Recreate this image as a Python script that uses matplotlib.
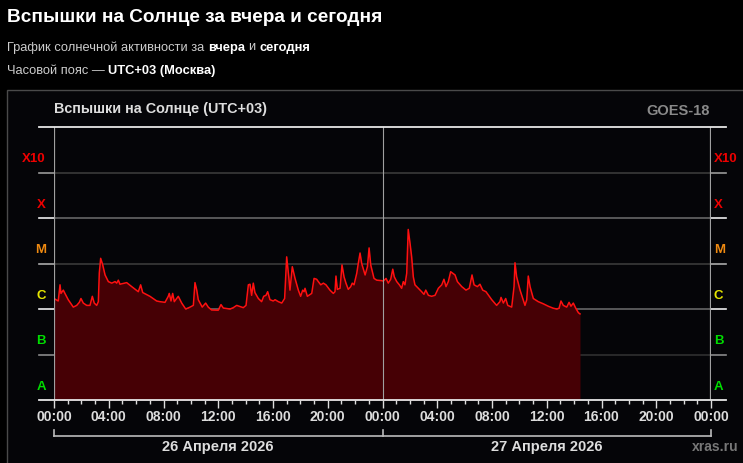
import matplotlib
matplotlib.use('Agg')
import matplotlib.pyplot as plt
from matplotlib.patches import Rectangle
from matplotlib.ticker import NullLocator, FixedLocator

plt.rcParams['font.family'] = ['Liberation Sans', 'DejaVu Sans']

# hours since 00:00 26 April (UTC+03)
hours = [0.00, 0.15, 0.31, 0.44, 0.51, 0.68, 0.80, 1.04, 1.41, 1.66, 1.85, 1.97, 2.14, 2.39, 2.63, 2.80, 2.94, 3.12, 3.24, 3.31,
         3.41, 3.56, 3.73, 3.97, 4.22, 4.46, 4.58, 4.70, 4.82, 5.31, 5.68, 6.16, 6.33, 6.48, 7.01, 7.50, 7.74, 8.11, 8.35, 8.42,
         8.55, 8.67, 8.79, 9.08, 9.33, 9.62, 9.94, 10.18, 10.30, 10.43, 10.54, 10.83, 11.08, 11.27, 11.52, 12.00, 12.20, 12.37,
         12.86, 13.10, 13.35, 13.83, 14.03, 14.20, 14.32, 14.44, 14.56, 14.68, 14.93, 15.17, 15.32, 15.49, 15.61, 15.78, 16.02,
         16.15, 16.39, 16.64, 16.85,
         17.00, 17.15, 17.24, 17.41, 17.61, 17.85, 18.02, 18.17, 18.27, 18.34, 18.51, 18.83, 19.00, 19.19, 19.31, 19.49, 19.68,
         19.87, 20.16, 20.41, 20.53, 20.60, 20.70, 20.90, 21.04, 21.19, 21.33, 21.50, 21.68, 21.79, 21.92, 22.12, 22.23, 22.36,
         22.48, 22.73, 22.90, 23.02, 23.14, 23.38, 23.58, 23.94,
         24.06, 24.26, 24.42, 24.60, 24.75, 24.86, 25.04, 25.23, 25.40, 25.52, 25.64, 25.77, 25.88, 26.01, 26.13, 26.25, 26.37,
         26.62, 26.86, 27.03, 27.16, 27.35, 27.59, 27.84, 28.08, 28.33, 28.49, 28.64, 28.81, 28.98, 29.13, 29.30, 29.47, 29.79,
         30.10, 30.34, 30.54, 30.69, 30.93, 31.12, 31.32, 31.56, 31.80,
         31.98, 32.34, 32.58, 32.66, 32.83, 33.00, 33.15, 33.44, 33.61, 33.68, 33.80, 34.05, 34.17, 34.41, 34.54, 34.65, 34.78,
         35.02, 35.38, 35.75, 36.11, 36.48, 36.73, 36.90, 37.04, 37.21, 37.46, 37.63, 37.77, 37.94, 38.12, 38.31, 38.43]

# GOES X-ray flare class at each time
classes = ['C1.7', 'C1.6', 'C1.5', 'C3.4', 'C2.2', 'C2.6', 'C2.2', 'C1.6', 'C1.1', 'C1.2', 'C1.4', 'C1.7', 'C1.35', 'C1.2',
           'C1.2', 'C1.9', 'C1.35', 'C1.2', 'C1.45', 'C6.2', 'M1.3', 'C9.3', 'C5.6', 'C4.0', 'C3.7', 'C4.0', 'C3.7', 'C4.3',
           'C3.5', 'C3.8', 'C3.1', 'C2.4', 'C3.4', 'C2.3', 'C1.9', 'C1.5', 'C1.45', 'C1.4', 'C1.9', 'C2.2',
           'C1.5', 'C2.2', 'C1.45', 'C1.9', 'C1.35', 'C1.0', 'C1.1', 'C1.2', 'C3.8', 'C2.6', 'C1.6', 'C1.1', 'C1.35', 'C1.1',
           'B9.5', 'B9.4', 'C1.25', 'C1.05', 'C1.0', 'C1.07', 'C1.2', 'C1.07', 'C1.2', 'C3.4', 'C3.5', 'C2.0', 'C3.7', 'C2.3',
           'C1.7', 'C1.45', 'C1.9', 'C2.0', 'C2.4', 'C1.6', 'C1.5', 'C1.6', 'C1.45', 'C1.35', 'C1.7',
           'M1.4', 'C5.1', 'C2.6', 'C8.5', 'C4.7', 'C2.6', 'C1.9', 'C2.6', 'C2.4', 'C2.85', 'C1.9', 'C2.2', 'C4.7', 'C4.5',
           'C4.0', 'C3.4', 'C3.7', 'C3.4', 'C2.6', 'C2.2', 'C2.4', 'C5.3', 'C2.7', 'C2.85', 'C9.3', 'C5.1', 'C3.7', 'C2.7',
           'C3.1', 'C3.7', 'C3.4', 'C6.1', 'M1.0', 'M1.7', 'M1.0', 'C5.6', 'C8.5', 'M2.2', 'C9.3', 'C4.7', 'C4.3', 'C4.2',
           'C4.1', 'C4.7', 'C3.7', 'C4.5', 'C7.5', 'C5.1', 'C4.0', 'C3.4', 'C2.85', 'C4.0', 'C3.4', 'C6.1', 'M5.6', 'M2.8',
           'M1.4', 'C5.1', 'C3.4', 'C2.85', 'C2.4', 'C2.1', 'C2.6', 'C2.0', 'C1.9', 'C2.0', 'C2.85', 'C3.4', 'C4.5', 'C3.1',
           'C4.0', 'C6.6', 'C6.1', 'C5.6', 'C4.0', 'C3.1', 'C2.6', 'C2.85', 'C5.6', 'C3.4', 'C3.1', 'C3.5', 'C2.6', 'C2.4',
           'C1.9',
           'C1.6', 'C1.2', 'C1.45', 'C1.8', 'C1.35', 'C1.7', 'C1.2', 'C1.1', 'C3.1', 'M1.04', 'C5.1', 'C2.6', 'C2.0', 'C1.2',
           'C1.6', 'C5.3', 'C3.1', 'C1.7', 'C1.45', 'C1.3', 'C1.15', 'C1.04', 'C1.0', 'C1.04', 'C1.5', 'C1.2', 'C1.1', 'C1.4',
           'C1.15', 'C1.35', 'C1.04', 'B8.3', 'B7.8']

level_names = ['A', 'B', 'C', 'M', 'X', 'X10']
level_colors = ['#00dd00', '#00dd00', '#e6e600', '#f08a10', '#ee0000', '#ee0000']
date_labels = ['26 Апреля 2026', '27 Апреля 2026']

base = {'A': 1e-8, 'B': 1e-7, 'C': 1e-6, 'M': 1e-5, 'X': 1e-4}
flux = [base[c[0]] * float(c[1:]) for c in classes]

W, H = 743, 463
fig = plt.figure(figsize=(W / 100, H / 100), dpi=100)
fig.patch.set_facecolor('black')


def fx(x):
    return x / W


def fy(y):
    return 1 - y / H


# panel frame
fig.patches.append(Rectangle((fx(7), fy(480)), fx(770) - fx(7), fy(90) - fy(480),
                             transform=fig.transFigure, facecolor='#050508',
                             edgecolor='#4a4a4a', lw=1.0, zorder=-10))

renderer = fig.canvas.get_renderer()


def rich_line(x, y, parts, size):
    # parts: (text, bold, color), joined with single spaces
    cx = x
    for s, bold, col in parts:
        w = 'bold' if bold else 'normal'
        t = fig.text(fx(cx), fy(y), s, fontsize=size, fontweight=w, color=col, va='center', ha='left')
        cx += t.get_window_extent(renderer).width
        a = fig.text(0, 0, 'нн', fontsize=size)
        b = fig.text(0, 0, 'н н', fontsize=size)
        cx += b.get_window_extent(renderer).width - a.get_window_extent(renderer).width
        a.remove()
        b.remove()


fig.text(fx(7), fy(17), 'Вспышки на Солнце за вчера и сегодня', fontsize=13.7, fontweight='bold',
         color='white', va='center', ha='left')
rich_line(7, 47.5, [('График солнечной активности за', False, '#cccccc'), ('вчера', True, 'white'),
                    ('и', False, '#cccccc'), ('сегодня', True, 'white')], 9.3)
rich_line(7, 70.5, [('Часовой пояс —', False, '#cccccc'), ('UTC+03 (Москва)', True, 'white')], 9.3)

fig.text(fx(54), fy(109), 'Вспышки на Солнце (UTC+03)', fontsize=10.4, fontweight='bold',
         color='#dddddd', va='center', ha='left')
fig.text(fx(710), fy(111), 'GOES-18', fontsize=10.5, fontweight='bold',
         color='#8a8a8a', va='center', ha='right')
fig.text(fx(739), fy(447), 'xras.ru', fontsize=10, fontweight='bold',
         color='#777777', va='center', ha='right')

ax = fig.add_axes([fx(54), fy(400), fx(711) - fx(54), fy(127) - fy(400)])
ax.set_facecolor('#050508')
ax.set_xlim(0, 48)
ax.set_yscale('log')
ax.set_ylim(1e-8, 1e-2)
for s in ax.spines.values():
    s.set_visible(False)
ax.yaxis.set_major_locator(NullLocator())
ax.yaxis.set_minor_locator(NullLocator())

ytr = ax.get_yaxis_transform()
stub = 15 / 657

grid_across = {1e-7: '#303030', 1e-6: '#666666', 1e-5: '#3a3a3a', 1e-4: '#666666', 1e-3: '#3a3a3a'}
grid_stub = {1e-7: '#8a8a8a', 1e-6: '#eeeeee', 1e-5: '#aaaaaa', 1e-4: '#eeeeee', 1e-3: '#999999'}
for lv, col in grid_across.items():
    ax.plot([0, 1], [lv, lv], transform=ytr, color=col, lw=1.2, zorder=1)
    ax.plot([-stub, 0], [lv, lv], transform=ytr, color=grid_stub[lv], lw=1.2, clip_on=False, zorder=1)
    ax.plot([1, 1 + stub], [lv, lv], transform=ytr, color=grid_stub[lv], lw=1.2, clip_on=False, zorder=1)
for lv in [1e-8, 1e-2]:
    ax.plot([-stub, 1 + stub], [lv, lv], transform=ytr, color='#e6e6e6', lw=1.3, clip_on=False, zorder=5)

ax.fill_between(hours, flux, 1e-8, color='#460005', lw=0, zorder=2)
ax.plot(hours, flux, color='#ff1010', lw=1.1, zorder=3)

ax.axvline(24, color='#a0a0a0', lw=0.8, zorder=4)
ax.axvline(0, color='#a0a0a0', lw=1.6, zorder=4)
ax.axvline(48, color='#a0a0a0', lw=1.6, zorder=4)

# class labels on both sides
for i, (name, col) in enumerate(zip(level_names, level_colors)):
    yv = 10 ** (i - 8 + 0.29)
    ax.text(-8 / 657, yv, name, transform=ytr, ha='right', va='center', fontsize=9.5,
            fontweight='bold', color=col)
    ax.text(1 + 3 / 657, yv, name, transform=ytr, ha='left', va='center', fontsize=9.5,
            fontweight='bold', color=col)

ax.xaxis.set_major_locator(FixedLocator(list(range(0, 49, 4))))
ax.xaxis.set_minor_locator(FixedLocator(list(range(0, 49, 1))))
ax.set_xticklabels(['%02d:00' % (h % 24) for h in range(0, 49, 4)])
ax.tick_params(axis='x', which='major', length=5.5, width=1.0, color='#dddddd', pad=2,
               labelsize=10, labelcolor='#dddddd')
ax.tick_params(axis='x', which='minor', length=3, width=1.0, color='#dddddd')
for lab in ax.get_xticklabels():
    lab.set_fontweight('bold')

# day brackets
yb = -36 / 273
yt = -30 / 273
ax.plot([0, 1], [yb, yb], transform=ax.transAxes, color='#bbbbbb', lw=1.2, clip_on=False)
for xb in [0, 0.5, 1]:
    ax.plot([xb, xb], [yb, yt], transform=ax.transAxes, color='#bbbbbb', lw=1.2, clip_on=False)
for xc, lab in zip([0.25, 0.75], date_labels):
    ax.text(xc, -46.5 / 273, lab, transform=ax.transAxes, ha='center', va='center',
            fontsize=10.5, fontweight='bold', color='#dddddd')

fig.savefig('out.png', dpi=100, facecolor='black')
